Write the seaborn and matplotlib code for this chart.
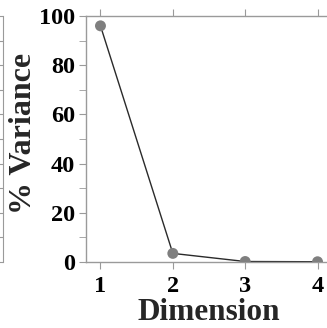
import matplotlib
matplotlib.use("Agg")
import matplotlib.pyplot as plt
import seaborn as sns
import pandas as pd
from matplotlib.ticker import MultipleLocator

dimension = [1, 2, 3, 4]
variance = [96.0, 3.5, 0.2, 0.1]

df = pd.DataFrame({"Dimension": dimension, "Variance": variance})

sns.set_style("ticks")
plt.rcParams['font.family'] = ['Liberation Serif', 'DejaVu Serif']
plt.rcParams['font.weight'] = 'bold'

spine_col = '#9a9a9a'

fig = plt.figure(figsize=(3.27, 3.28), dpi=100)
ax = fig.add_axes([86 / 327, 66 / 328, 246 / 327, 246 / 328])

# neighbour panel, only its right edge shows
ax0 = fig.add_axes([-1.0, 66 / 328, 1.0 + 3 / 327, 246 / 328])
ax0.set_ylim(0, 100)
ax0.set_xlim(0, 1)
ax0.yaxis.set_major_locator(MultipleLocator(10))
ax0.yaxis.tick_right()
ax0.tick_params(axis='y', direction='in', length=4, color=spine_col, labelright=False)
ax0.tick_params(axis='x', bottom=False, labelbottom=False)
for s in ['top', 'bottom', 'left']:
    ax0.spines[s].set_visible(False)
ax0.spines['right'].set_color(spine_col)

sns.lineplot(data=df, x="Dimension", y="Variance", ax=ax, color='#2a2a2a', linewidth=1.0)
sns.scatterplot(data=df, x="Dimension", y="Variance", ax=ax, color='#7f7f7f',
                s=62, edgecolor='none', zorder=3)

ax.set_xlim(0.8, 4.2)
ax.set_ylim(0, 100)
ax.set_xticks(dimension)
ax.yaxis.set_major_locator(MultipleLocator(20))
ax.yaxis.set_minor_locator(MultipleLocator(10))

for s in ax.spines.values():
    s.set_color(spine_col)
    s.set_linewidth(1.0)

ax.tick_params(axis='both', which='both', direction='out', color=spine_col, length=5,
               labelsize=17.5, labelcolor='black', top=True, pad=3)
ax.tick_params(axis='x', which='both', top=True, pad=5)
ax.tick_params(axis='y', which='minor', length=5)

for lab in ax.get_xticklabels() + ax.get_yticklabels():
    lab.set_fontweight('bold')

ax.set_xlabel("Dimension", fontsize=22.5, fontweight='bold', labelpad=0.5)
ax.set_ylabel("% Variance", fontsize=23, fontweight='bold')
ax.yaxis.set_label_coords(-0.195, 0.524)

fig.savefig("out.png", dpi=100)
